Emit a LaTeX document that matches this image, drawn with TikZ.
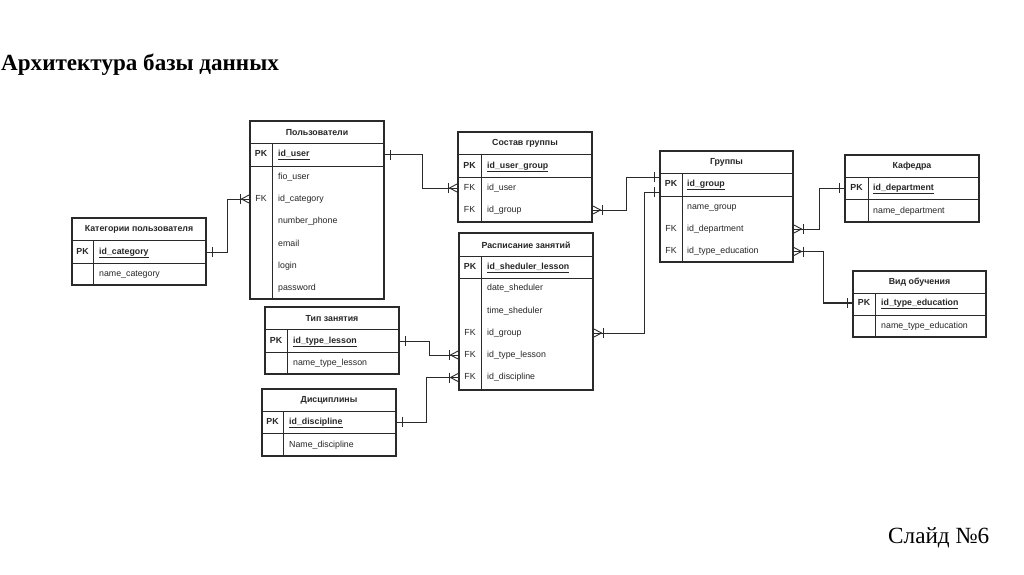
\documentclass[tikz,border=0pt]{standalone}
\usepackage{fontspec}
\setmainfont{Liberation Serif}
\newfontfamily\tblfont{Liberation Sans}
\usetikzlibrary{fit,calc}
\definecolor{ink}{HTML}{262626}
\definecolor{edge}{HTML}{2A2A2A}
\tikzset{
  tblbox/.style={draw=edge, line width=1.1pt, inner sep=0pt, outer sep=0pt},
  tblline/.style={draw=edge, line width=0.8pt},
  tblhead/.style={font=\tblfont\fontsize{8.8}{10}\selectfont\bfseries, text=ink, inner sep=0pt},
  keyt/.style={font=\tblfont\fontsize{8.8}{10}\selectfont, text=ink, inner sep=0pt, text height=6.5pt, text depth=2pt},
  pkkey/.style={keyt, font=\tblfont\fontsize{8.8}{10}\selectfont\bfseries},
  fldt/.style={font=\tblfont\fontsize{8.8}{10}\selectfont, text=ink, inner sep=0pt, anchor=west, text height=6.5pt, text depth=2pt},
  pkfld/.style={fldt, font=\tblfont\fontsize{8.8}{10}\selectfont\bfseries},
  conn/.style={draw=edge, line width=0.9pt},
  erone/.pic={\draw[conn] (6,-5) -- (6,5);},
  ermany/.pic={\draw[conn] (0,-4.5) -- (8.5,0) -- (0,4.5); \draw[conn] (10,-5) -- (10,5);}
}
\newcommand\erdtable[9]{%
  \coordinate (#1-nw) at (#2,#4);
  \coordinate (#1-se) at (#3,#7);
  \node[tblbox, fit=(#1-nw)(#1-se)] (#1) {};
  \draw[tblline] (#2,#5) -- (#3,#5) (#2,#6) -- (#3,#6) (#8,#5) -- (#8,#7);
  \node[tblhead] (#1-title) at ({(#2+#3)/2},{(#4+#5)/2+0.5}) {#9};
}
\begin{document}
\begin{tikzpicture}[x=1pt,y=-1pt]
\useasboundingbox[fill=white] (0,0) rectangle (1024,574);

% titles
\node[anchor=base west, inner sep=0pt, font=\fontsize{23.1}{26}\selectfont\bfseries] (title) at (1,70.5) {Архитектура базы данных};
\node[anchor=base west, inner sep=0pt, font=\fontsize{23.2}{27}\selectfont] (slide) at (888,543.5) {Слайд №6};

% Пользователи
\erdtable{users}{250}{384}{121}{143}{166}{299}{272}{Пользователи}
\node[pkkey] (users-k1) at (261,154.5) {PK};
\node[pkfld] (users-pk) at (278,154.5) {\underline{id\_user}};
\node[fldt] (users-fio) at (278,177) {fio\_user};
\node[keyt] (users-k2) at (261,199) {FK};
\node[fldt] (users-idcat) at (278,199) {id\_category};
\node[fldt] (users-phone) at (278,221.5) {number\_phone};
\node[fldt] (users-email) at (278,244) {email};
\node[fldt] (users-login) at (278,266) {login};
\node[fldt] (users-pass) at (278,288) {password};

% Категории пользователя
\erdtable{cat}{72}{206}{218}{240}{263}{285}{93}{Категории пользователя}
\node[pkkey] (cat-k1) at (82.5,252) {PK};
\node[pkfld] (cat-pk) at (99,252) {\underline{id\_category}};
\node[fldt] (cat-name) at (99,274) {name\_category};

% Состав группы
\erdtable{sostav}{458}{592}{132}{154}{177}{222}{481}{Состав группы}
\node[pkkey] (sostav-k1) at (469.5,166) {PK};
\node[pkfld] (sostav-pk) at (487,166) {\underline{id\_user\_group}};
\node[keyt] (sostav-k2) at (469.5,188) {FK};
\node[fldt] (sostav-iduser) at (487,188) {id\_user};
\node[keyt] (sostav-k3) at (469.5,210) {FK};
\node[fldt] (sostav-idgroup) at (487,210) {id\_group};

% Расписание занятий
\erdtable{rasp}{459}{593}{233}{256}{278}{390}{481}{Расписание занятий}
\node[pkkey] (rasp-k1) at (470,267) {PK};
\node[pkfld] (rasp-pk) at (487,267) {\underline{id\_sheduler\_lesson}};
\node[fldt] (rasp-date) at (487,288.5) {date\_sheduler};
\node[fldt] (rasp-time) at (487,311) {time\_sheduler};
\node[keyt] (rasp-k2) at (470,333) {FK};
\node[fldt] (rasp-idgroup) at (487,333) {id\_group};
\node[keyt] (rasp-k3) at (470,355) {FK};
\node[fldt] (rasp-idtype) at (487,355) {id\_type\_lesson};
\node[keyt] (rasp-k4) at (470,377.5) {FK};
\node[fldt] (rasp-iddisc) at (487,377.5) {id\_discipline};

% Группы
\erdtable{groups}{660}{793}{151}{173}{196}{262}{682}{Группы}
\node[pkkey] (groups-k1) at (671,184) {PK};
\node[pkfld] (groups-pk) at (687,184) {\underline{id\_group}};
\node[fldt] (groups-name) at (687,207) {name\_group};
\node[keyt] (groups-k2) at (671,229) {FK};
\node[fldt] (groups-iddep) at (687,229) {id\_department};
\node[keyt] (groups-k3) at (671,251.5) {FK};
\node[fldt] (groups-idtype) at (687,251.5) {id\_type\_education};

% Кафедра
\erdtable{kaf}{845}{979}{155}{177}{199}{222}{868}{Кафедра}
\node[pkkey] (kaf-k1) at (856.5,188) {PK};
\node[pkfld] (kaf-pk) at (873,188) {\underline{id\_department}};
\node[fldt] (kaf-name) at (873,211) {name\_department};

% Вид обучения
\erdtable{vid}{853}{986}{271}{293}{315}{337}{875}{Вид обучения}
\node[pkkey] (vid-k1) at (864,303) {PK};
\node[pkfld] (vid-pk) at (881,303) {\underline{id\_type\_education}};
\node[fldt] (vid-name) at (881,326) {name\_type\_education};

% Тип занятия
\erdtable{tip}{265}{399}{307}{329}{352}{374}{287}{Тип занятия}
\node[pkkey] (tip-k1) at (276,341) {PK};
\node[pkfld] (tip-pk) at (293,341) {\underline{id\_type\_lesson}};
\node[fldt] (tip-name) at (293,363) {name\_type\_lesson};

% Дисциплины
\erdtable{disc}{262}{396}{389}{411}{433}{456}{283}{Дисциплины}
\node[pkkey] (disc-k1) at (272.5,422) {PK};
\node[pkfld] (disc-pk) at (289,422) {\underline{id\_discipline}};
\node[fldt] (disc-name) at (289,445) {Name\_discipline};

% connectors
\draw[conn] (cat.east |- cat-pk) -- ++(21,0) |- (users.west |- users-idcat);
\pic at (cat.east |- cat-pk) {erone};
\pic[xscale=-1] at (users.west |- users-idcat) {ermany};

\draw[conn] (users.east |- users-pk) -- ++(38,0) |- (sostav.west |- sostav-iduser);
\pic at (users.east |- users-pk) {erone};
\pic[xscale=-1] at (sostav.west |- sostav-iduser) {ermany};

\draw[conn] (sostav.east |- sostav-idgroup) -- ++(34,0) |- ($(groups.west |- groups-pk)+(0,-7)$);
\pic at (sostav.east |- sostav-idgroup) {ermany};
\pic[xscale=-1] at ($(groups.west |- groups-pk)+(0,-7)$) {erone};

\draw[conn] (rasp.east |- rasp-idgroup) -- ++(51,0) |- ($(groups.west |- groups-pk)+(0,8)$);
\pic at (rasp.east |- rasp-idgroup) {ermany};
\pic[xscale=-1] at ($(groups.west |- groups-pk)+(0,8)$) {erone};

\draw[conn] (groups.east |- groups-iddep) -- ++(26,0) |- (kaf.west |- kaf-pk);
\pic at (groups.east |- groups-iddep) {ermany};
\pic[xscale=-1] at (kaf.west |- kaf-pk) {erone};

\coordinate (vbend) at ($(groups.east |- groups-idtype)+(30,0)$);
\draw[conn] (groups.east |- groups-idtype) -- (vbend) -- (vbend |- vid-pk);
\draw[conn, line width=1.3pt] (vbend |- vid-pk) -- (vid.west |- vid-pk);
\pic at (groups.east |- groups-idtype) {ermany};
\pic[xscale=-1] at (vid.west |- vid-pk) {erone};

\draw[conn] (tip.east |- tip-pk) -- ++(30,0) |- (rasp.west |- rasp-idtype);
\pic at (tip.east |- tip-pk) {erone};
\pic[xscale=-1] at (rasp.west |- rasp-idtype) {ermany};

\draw[conn] (disc.east |- disc-pk) -- ++(30,0) |- (rasp.west |- rasp-iddisc);
\pic at (disc.east |- disc-pk) {erone};
\pic[xscale=-1] at (rasp.west |- rasp-iddisc) {ermany};
\end{tikzpicture}
\end{document}
